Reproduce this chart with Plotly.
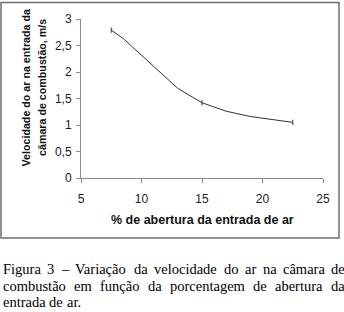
import plotly.graph_objects as go

# ---- data ----
abertura = [7.5, 8.5, 13, 15, 17, 19, 22.5]
velocidade = [2.79, 2.63, 1.69, 1.42, 1.26, 1.16, 1.05]
pontos_x = [7.5, 15, 22.5]
pontos_y = [2.79, 1.42, 1.05]
erro = [0.05, 0.05, 0.05]

x_ticks = [5, 10, 15, 20, 25]
y_ticks = [0, 0.5, 1, 1.5, 2, 2.5, 3]

x_title = "% de abertura da entrada de ar"
y_title_lines = ["Velocidade do ar na entrada da", "câmara de combustão, m/s"]
caption_lines = [
    "Figura 3 – Variação da velocidade do ar na câmara de",
    "combustão em função da porcentagem de abertura da",
    "entrada de ar.",
]

# ---- layout geometry (pixels) ----
W, H = 344, 312
L, R, T, B = 81, 21, 19, 134
PW, PH = W - L - R, H - T - B


def px(xp):
    return (xp - L) / PW


def py(yp):
    return (H - B - yp) / PH


fig = go.Figure()
fig.add_trace(go.Scatter(x=abertura, y=velocidade, mode="lines",
                         line=dict(color="#333333", width=1), showlegend=False,
                         hoverinfo="skip"))
fig.add_trace(go.Scatter(x=pontos_x, y=pontos_y, mode="markers",
                         marker=dict(size=1, color="rgba(0,0,0,0)"),
                         error_y=dict(type="data", array=erro, visible=True,
                                      color="#333333", thickness=1, width=0),
                         showlegend=False))

axis_common = dict(showgrid=False, zeroline=False, showline=True,
                   linecolor="#8c8c8c", linewidth=1, ticks="outside",
                   ticklen=4, tickcolor="#8c8c8c",
                   tickfont=dict(family="Liberation Sans, Arial", size=12, color="#222"))

fig.update_xaxes(range=[5, 25], tickvals=x_ticks, ticklabelstandoff=6, **axis_common)
fig.update_yaxes(range=[0, 3], tickvals=y_ticks, ticklabelstandoff=2, **axis_common)

annotations = []
annotations.append(dict(text="<b>" + x_title + "</b>", xref="paper", yref="paper",
                        x=px(202), y=py(220), xanchor="center", yanchor="middle",
                        showarrow=False,
                        font=dict(family="Liberation Sans, Arial", size=12.5, color="#111")))
for xl, line in zip([25.5, 42], y_title_lines):
    annotations.append(dict(text="<b>" + line + "</b>",
                            xref="paper", yref="paper", x=px(xl), y=py(88),
                            xanchor="center", yanchor="middle", textangle=-90,
                            showarrow=False,
                            font=dict(family="Liberation Sans, Arial", size=10.7, color="#111")))

# justified caption (Times metrics per 1000 em)
tw = {'a': 444, 'b': 500, 'c': 444, 'd': 500, 'e': 444, 'f': 333, 'g': 500, 'h': 500,
      'i': 278, 'j': 278, 'k': 500, 'l': 278, 'm': 778, 'n': 500, 'o': 500, 'p': 500,
      'q': 500, 'r': 333, 's': 389, 't': 278, 'u': 500, 'v': 500, 'w': 722, 'x': 500,
      'y': 500, 'z': 444, 'F': 556, 'V': 722, '3': 500, '–': 500, '.': 250, ',': 250,
      'ç': 444, 'ã': 444, 'â': 444}
cap_size = 14.5
cap_left, cap_right = 1, 343
cap_center = [269, 286, 302]
for i, line in enumerate(caption_lines):
    words = line.split(" ")
    widths = [sum(tw.get(c, 500) for c in w_) * cap_size / 1000 for w_ in words]
    yy = py(cap_center[i])
    if i < len(caption_lines) - 1:
        gap = (cap_right - cap_left - sum(widths)) / (len(words) - 1)
    else:
        gap = 0.25 * cap_size
    xcur = cap_left
    for w_, wd in zip(words, widths):
        annotations.append(dict(text=w_, xref="paper", yref="paper", x=px(xcur), y=yy,
                                xanchor="left", yanchor="middle", showarrow=False,
                                font=dict(family="Liberation Serif, Times New Roman",
                                          size=cap_size, color="#000")))
        xcur += wd + gap

box_color = "#6e6e6e"
fig.update_layout(
    width=W, height=H,
    margin=dict(l=L, r=R, t=T, b=B),
    paper_bgcolor="white", plot_bgcolor="white",
    separators=",.",
    annotations=annotations,
    shapes=[dict(type="rect", xref="paper", yref="paper",
                 x0=px(1), x1=px(339), y0=py(238), y1=py(2.5),
                 line=dict(color=box_color, width=1.5))],
)

fig.write_html("out.html", config={"displayModeBar": False},
               post_script="document.body.style.margin='0';document.body.style.overflow='hidden';")
